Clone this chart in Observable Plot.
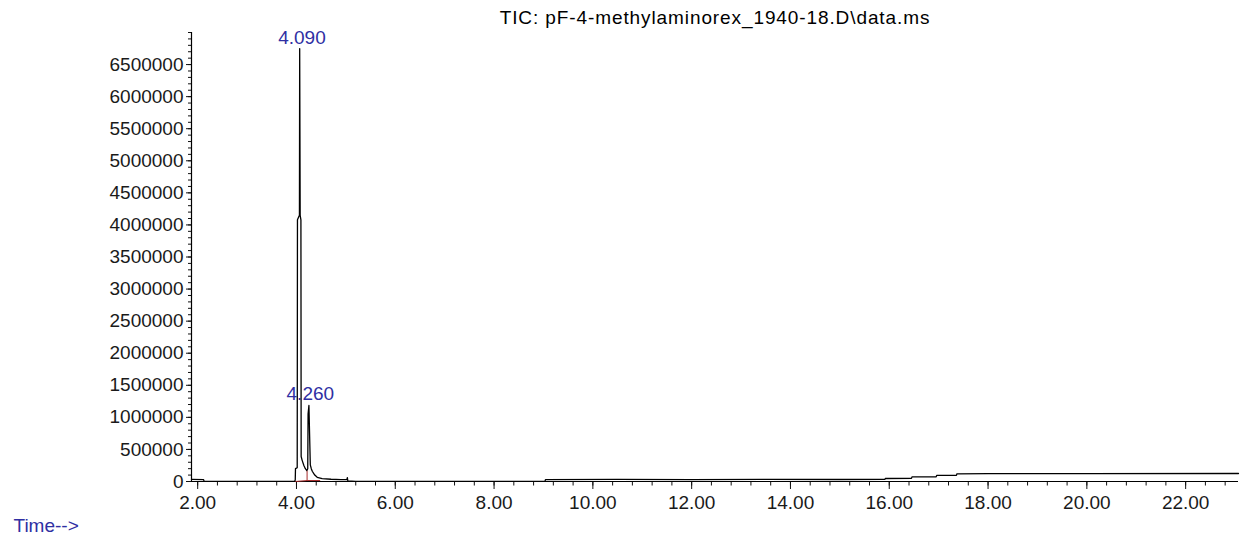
<!DOCTYPE html>
<html><head><meta charset="utf-8">
<script src="https://cdn.jsdelivr.net/npm/d3@7"></script>
<script src="https://cdn.jsdelivr.net/npm/@observablehq/plot@0.6"></script>
<style>
html,body{margin:0;padding:0;background:#fff;}
#chart{width:1240px;height:540px;}
</style></head><body>
<div id="chart"></div>
<script>
// ---- data ----
const title = "TIC: pF-4-methylaminorex_1940-18.D\\data.ms";
const xLabel = "Time-->";
const times = [1.875, 2.12, 2.13, 3.0, 3.96, 3.975, 3.98, 4.015, 4.02, 4.06, 4.065, 4.075, 4.09, 4.095, 4.115, 4.15, 4.18, 4.21, 4.228, 4.235, 4.252, 4.28, 4.30, 4.32, 4.37, 4.42, 4.52, 4.7, 4.9, 5.02, 5.03, 5.04, 5.2, 7.0, 9.03, 9.04, 10.5, 12.0, 13.5, 15.0, 15.91, 15.92, 16.45, 16.46, 16.95, 16.96, 17.36, 17.37, 18.0, 20.0, 23.07];
const abundance = [32000, 30000, 3000, 2000, 3000, 20000, 200000, 215000, 4080000, 4150000, 6750000, 4150000, 4080000, 390000, 330000, 250000, 200000, 170000, 200000, 1050000, 1185000, 260000, 200000, 160000, 100000, 65000, 45000, 35000, 30000, 28000, 60000, 8000, 2000, 1000, 2000, 28000, 32000, 30000, 33000, 31000, 32000, 47000, 48000, 73000, 74000, 94000, 95000, 120000, 122000, 123000, 125000];
const peakTimes = [4.090, 4.260];
const peakHeights = [6750000, 1185000];
const peakLabels = ["4.090", "4.260"];
const integStartT = [3.975, 4.215, 4.215];
const integStartV = [0, 15000, 10000];
const integEndT = [4.215, 4.48, 4.215];
const integEndV = [15000, 15000, 170000];
const xDomain = [1.875, 23.07];
const yDomain = [0, 7000000];
const xMajorTicks = [2, 4, 6, 8, 10, 12, 14, 16, 18, 20, 22];
const xTickLabels = ["2.00", "4.00", "6.00", "8.00", "10.00", "12.00", "14.00", "16.00", "18.00", "20.00", "22.00"];
const xMinorTicks = d3.range(0, 53).map(i => 2 + i * 0.4);
const yMajorTicks = [0, 500000, 1000000, 1500000, 2000000, 2500000, 3000000, 3500000, 4000000, 4500000, 5000000, 5500000, 6000000, 6500000];
const yTickLabels = ["0", "500000", "1000000", "1500000", "2000000", "2500000", "3000000", "3500000", "4000000", "4500000", "5000000", "5500000", "6000000", "6500000"];
const yMinorTicks = d3.range(0, 71).map(i => i * 100000);

// ---- derived tables ----
const trace = times.map((t, i) => ({t, v: abundance[i]}));
const peaks = peakTimes.map((t, i) => ({t, v: peakHeights[i], label: peakLabels[i]}));
const integ = integStartT.map((t, i) => ({t1: t, v1: integStartV[i], t2: integEndT[i], v2: integEndV[i]}));

const blue = "#2f2fa3";
const font = '"Liberation Sans", Arial, sans-serif';

const chart = Plot.plot({
  width: 1240,
  height: 540,
  marginLeft: 191,
  marginRight: 2,
  marginTop: 32,
  marginBottom: 59,
  style: {fontFamily: font, fontSize: "19px", color: "#1a1a1a", background: "#fff"},
  x: {domain: xDomain, axis: null},
  y: {domain: yDomain, axis: null},
  marks: [
    Plot.axisY(yMinorTicks, {tickSize: 3, fill: "none", label: null, stroke: "#111"}),
    Plot.axisY(yMajorTicks, {tickSize: 5, tickPadding: 3, tickFormat: (d, i) => yTickLabels[i], label: null, fontSize: 19, stroke: "#111"}),
    Plot.axisX(xMinorTicks.filter(d => d <= xDomain[1]), {tickSize: 4.5, fill: "none", label: null, stroke: "#111"}),
    Plot.axisX(xMajorTicks, {tickSize: 8, tickPadding: 6, tickFormat: (d, i) => xTickLabels[i], label: null, fontSize: 19, stroke: "#111"}),
    Plot.ruleY([yDomain[0]], {stroke: "#000", strokeWidth: 1.2}),
    Plot.ruleX([xDomain[0]], {stroke: "#000", strokeWidth: 1.2}),
    Plot.link(integ, {x1: "t1", y1: "v1", x2: "t2", y2: "v2", stroke: "#a52a2a", strokeWidth: 1}),
    Plot.line(trace, {x: "t", y: "v", stroke: "#000", strokeWidth: 1.3}),
    Plot.text(peaks, {x: "t", y: "v", text: "label", fill: blue, lineAnchor: "bottom", dy: -5, dx: 1, fontSize: 19}),
    Plot.text([title], {frameAnchor: "top", lineAnchor: "bottom", dy: -9, fontSize: 19, fill: "#000"}),
    Plot.text([xLabel], {frameAnchor: "bottom-left", textAnchor: "start", lineAnchor: "bottom", dx: -178, dy: 50, fontSize: 19, fill: blue})
  ]
});
d3.select(chart).selectAll("text").filter(function () { return this.textContent === title; })
  .style("letter-spacing", "0.9px");
document.getElementById("chart").appendChild(chart);
</script>
</body></html>
